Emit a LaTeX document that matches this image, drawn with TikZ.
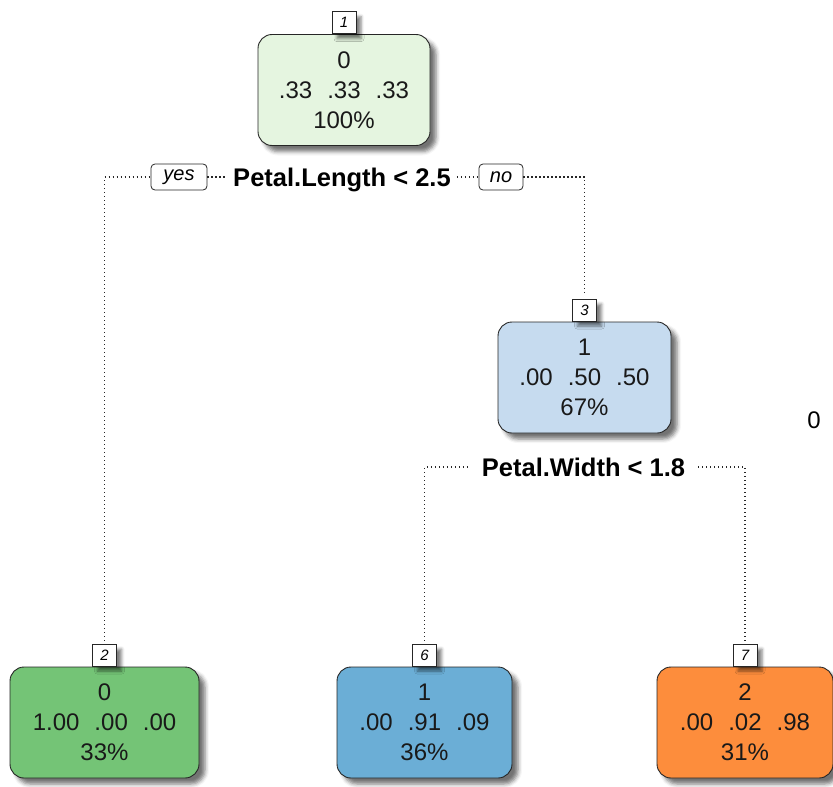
\documentclass[tikz,border=0pt]{standalone}
\usepackage{fontspec}
\setmainfont{Liberation Sans}
\usetikzlibrary{shadows.blur}
\definecolor{c1}{HTML}{E5F5E0}
\definecolor{c2}{HTML}{74C476}
\definecolor{c3}{HTML}{C6DBEF}
\definecolor{c6}{HTML}{6BAED6}
\definecolor{c7}{HTML}{FD8D3C}
\tikzset{
  tnode/.style={draw=black!85, line width=0.9pt, rounded corners=14pt, inner sep=0pt,
    minimum height=111pt, align=center, text=black!90,
    font=\fontsize{24}{30}\selectfont,
    blur shadow={shadow xshift=6pt, shadow yshift=-6pt, shadow blur radius=4pt, shadow opacity=55}},
  numbox/.style={draw=black!85, line width=0.8pt, fill=white, inner sep=0pt,
    minimum width=24pt, minimum height=22pt, anchor=south,
    font=\fontsize{15}{15}\selectfont\itshape,
    blur shadow={shadow xshift=5pt, shadow yshift=-5pt, shadow blur radius=3pt, shadow opacity=50}},
  yn/.style={draw=black!85, line width=0.8pt, fill=white, rounded corners=4pt, inner sep=0pt,
    minimum height=26pt, font=\fontsize{20}{20}\selectfont\itshape},
  splitlab/.style={fill=white, inner xsep=8pt, inner ysep=0pt, text height=18pt, text depth=0pt,
    font=\fontsize{25.5}{26}\selectfont\bfseries},
  dotline/.style={line width=1.1pt, dash pattern=on 1.1pt off 2.9pt, draw=black!85},
}
\newcommand{\gp}{\hspace{15pt}}
\begin{document}
\begin{tikzpicture}[x=1pt,y=-1pt]
\useasboundingbox (0,0) rectangle (833,787);
% nodes
\node[tnode, fill=c1, minimum width=172pt] (n1) at (344,90) {0\\.33\gp.33\gp.33\\100\%};
\node[numbox] (n1lab) at (n1.north) {1};
\node[tnode, fill=c3, minimum width=173pt] (n3) at (584.5,377.5) {1\\.00\gp.50\gp.50\\67\%};
\node[numbox] (n3lab) at (n3.north) {3};
\node[tnode, fill=c2, minimum width=189pt] (n2) at (104.5,722.5) {0\\1.00\gp.00\gp.00\\33\%};
\node[numbox] (n2lab) at (n2.north) {2};
\node[tnode, fill=c6, minimum width=175pt] (n6) at (424.5,722.5) {1\\.00\gp.91\gp.09\\36\%};
\node[numbox] (n6lab) at (n6.north) {6};
\node[tnode, fill=c7, minimum width=176pt] (n7) at (745,722.5) {2\\.00\gp.02\gp.98\\31\%};
\node[numbox] (n7lab) at (n7.north) {7};
% split labels
\node[splitlab, inner xsep=6pt] (s1) at (342,177) {Petal.Length < 2.5};
\node[yn, minimum width=56pt] (yes) at (179,177) {yes};
\node[yn, minimum width=44pt] (no) at (501,177) {no};
\node[splitlab, inner xsep=13pt] (s2) at (583.5,467) {Petal.Width < 1.8};
\node[font=\fontsize{24}{24}\selectfont] (zero) at (814,420) {0};
% connectors
\draw[dotline, shorten <=3pt] (n2lab) |- (yes);
\draw[dotline] (yes) -- (s1);
\draw[dotline] (s1) -- (no);
\draw[dotline, shorten >=4pt] (no) -| (n3lab);
\draw[dotline, shorten <=3pt] (n6lab) |- (s2);
\draw[dotline, shorten >=3pt] (s2) -| (n7lab);
\end{tikzpicture}
\end{document}
